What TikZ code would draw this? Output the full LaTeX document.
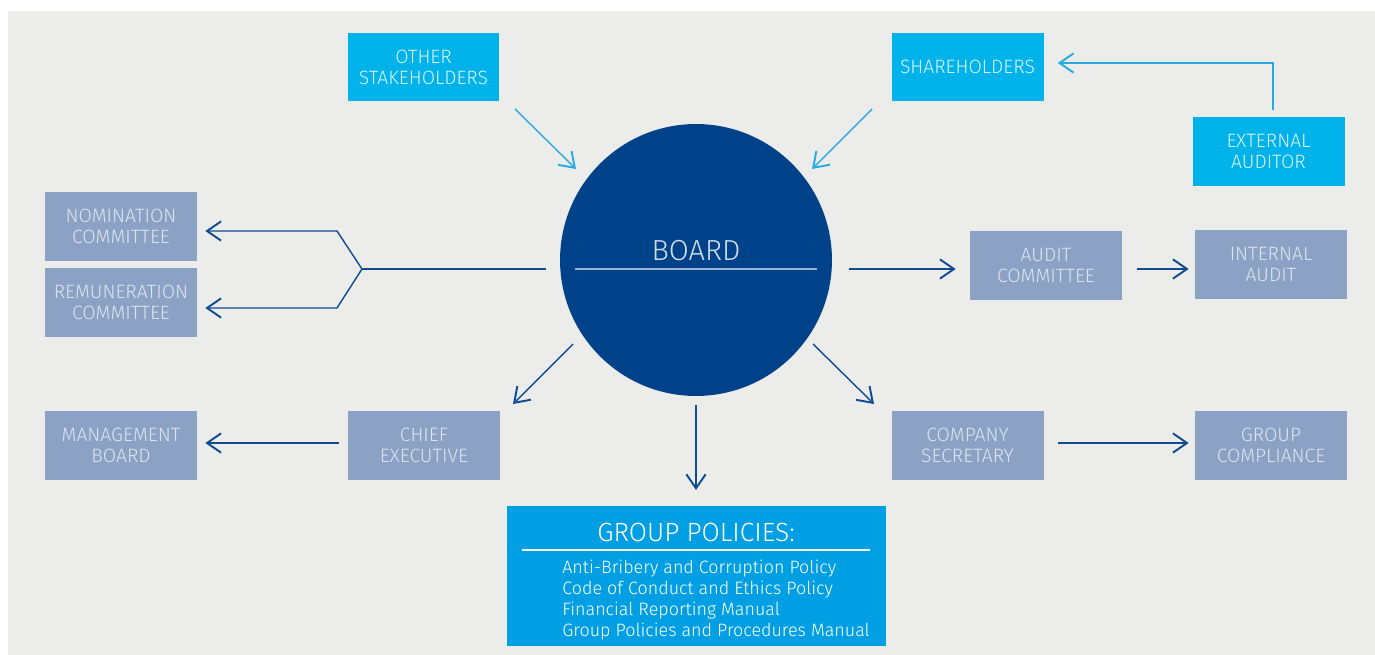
\documentclass[tikz,border=0pt]{standalone}
\usepackage{fontspec}
\setmainfont{Fira Sans Light}
\usetikzlibrary{arrows.meta, calc}

\definecolor{pagegrey}{HTML}{ECECEA}
\definecolor{navy}{HTML}{00428A}
\definecolor{lineblue}{HTML}{0F4C92}
\definecolor{cyanbox}{HTML}{00B2EA}
\definecolor{skyline}{HTML}{2AAAE2}
\definecolor{policyblue}{HTML}{009FE3}
\definecolor{slatebox}{HTML}{8BA2C4}
\definecolor{slatetext}{HTML}{DDE4EF}

\tikzset{
  unit/.style={rectangle, inner sep=0pt, minimum width=3.04cm, minimum height=1.37cm,
    align=center, font=\fontsize{11}{12}\selectfont},
  staff/.style={unit, fill=slatebox, text=slatetext},
  outside/.style={unit, fill=cyanbox, text=white!85!cyanbox},
  link/.style={draw=lineblue, line width=0.8pt,
    -{Straight Barb[length=8pt, width=11pt, line width=1.1pt]}},
  feed/.style={link, draw=skyline},
}

\begin{document}
\begin{tikzpicture}[x=0.02cm, y=-0.02cm]
  \useasboundingbox (0,0) rectangle (1375,655);
  \fill[pagegrey] (8,11) rectangle (1375,655);

  % the board in the middle
  \node[circle, fill=navy, minimum size=5.44cm, inner sep=0pt] (board) at (696,260) {};
  \node[anchor=base, text=white!82!navy, font=\fontsize{16.5}{18}\selectfont] (boardlbl) at (696,260) {BOARD};
  \draw[white!60!navy, line width=0.6pt] (575,269) -- (817,269);

  % boxes round it
  \node[outside] (others) at (423.5,67) {OTHER\\STAKEHOLDERS};
  \node[outside] (share) at (967.5,67) {SHAREHOLDERS};
  \node[outside] (extaud) at (1268.5,151.5) {EXTERNAL\\AUDITOR};
  \node[staff] (nomin) at (121,226.5) {NOMINATION\\COMMITTEE};
  \node[staff] (remun) at (121,302.5) {REMUNERATION\\COMMITTEE};
  \node[staff] (audit) at (1046,265.5) {AUDIT\\COMMITTEE};
  \node[staff] (internal) at (1271,264.5) {INTERNAL\\AUDIT};
  \node[staff] (mgmt) at (121,445.5) {MANAGEMENT\\BOARD};
  \node[staff] (chief) at (424,445.5) {CHIEF\\EXECUTIVE};
  \node[staff] (compsec) at (967.5,445.5) {COMPANY\\SECRETARY};
  \node[staff] (compliance) at (1271,445.5) {GROUP\\COMPLIANCE};

  % group policies
  \node[rectangle, fill=policyblue, minimum width=7.58cm, minimum height=2.8cm] (policies) at (696.5,576) {};
  \node[anchor=base, text=white, font=\fontsize{15}{18}\selectfont] (poltitle) at (696,541) {GROUP POLICIES:};
  \draw[white, line width=0.6pt] (522,550) -- (870,550);
  \foreach \txt [count=\i] in {Anti-Bribery and Corruption Policy, Code of Conduct and Ethics Policy,
      Financial Reporting Manual, Group Policies and Procedures Manual}
    \node[anchor=base west, inner sep=0pt, text=white, font=\fontsize{10.2}{12}\selectfont] at (562,573+21*\i-21) {\txt};

  % free ends near the circle
  \coordinate (b-w) at (546,269);
  \coordinate (b-e) at (849,269);
  \coordinate (b-sw) at (573,344);
  \coordinate (b-s) at (696,405);
  \coordinate (b-se) at (813,344);
  \coordinate (fork) at (362,269);

  % arrows into the board
  \draw[feed] (515,109) -- (576,169);
  \draw[feed] (872,109) -- (812,169);
  \draw[feed] ($(extaud.north)+(4.5,-7)$) |- ($(share.east)+(14,-4)$);

  % arrows out of the board
  \draw[lineblue, line width=0.8pt] (b-w) -- (fork);
  \draw[link] (fork) -- (337,231) -- ($(nomin.east)+(8,4.5)$);
  \draw[link] (fork) -- (337,308) -- ($(remun.east)+(8,5.5)$);
  \draw[link, shorten >=0.28cm] (b-e) -- (audit.west |- b-e);
  \draw[link, shorten <=0.3cm, shorten >=0.12cm] (audit.east |- b-e) -- (internal.west |- b-e);
  \draw[link] (b-sw) -- (513,404);
  \draw[link] (b-s) -- (696,490);
  \draw[link] (b-se) -- (874,404);
  \draw[link, shorten <=0.18cm, shorten >=0.16cm] ($(chief.west)+(0,-2.5)$) -- ($(mgmt.east)+(0,-2.5)$);
  \draw[link, shorten <=0.28cm, shorten >=0.12cm] ($(compsec.east)+(0,-2.5)$) -- ($(compliance.west)+(0,-2.5)$);
\end{tikzpicture}
\end{document}
